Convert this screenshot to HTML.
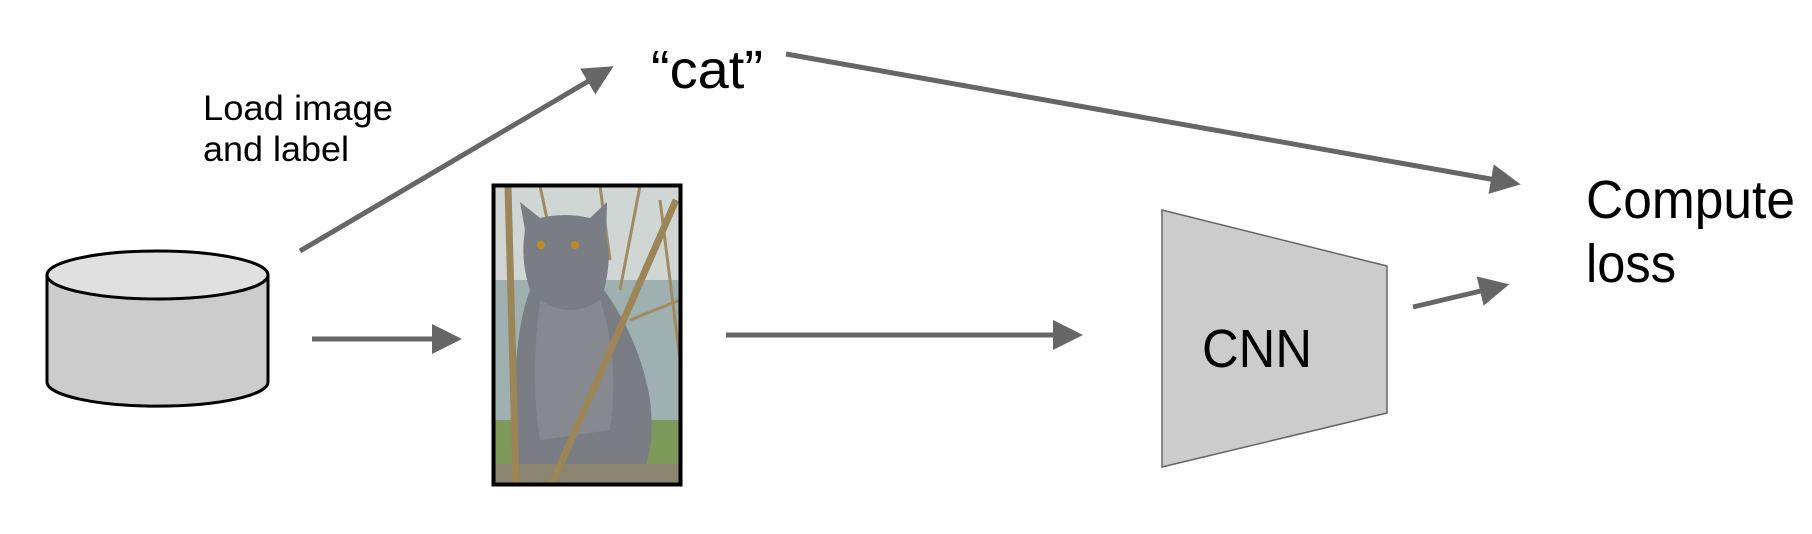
<!DOCTYPE html>
<html><head><meta charset="utf-8"><style>
html,body{margin:0;padding:0;background:#fff;}
svg{display:block;}
text{font-family:"Liberation Sans",Arial,sans-serif;fill:#000;}
</style></head><body>
<svg width="1812" height="534" viewBox="0 0 1812 534" xmlns="http://www.w3.org/2000/svg">
<defs>
<marker id="ah" markerWidth="6" markerHeight="6" refX="1" refY="3" orient="auto" markerUnits="strokeWidth">
<path d="M0,0 L6,3 L0,6 z" fill="#666"/>
</marker>
</defs>
<!-- labels -->
<text x="651" y="88" font-size="54" textLength="112" lengthAdjust="spacingAndGlyphs">“cat”</text>
<text x="203" y="120" font-size="35" textLength="190" lengthAdjust="spacingAndGlyphs">Load image</text>
<text x="203" y="161" font-size="35" textLength="146" lengthAdjust="spacingAndGlyphs">and label</text>
<text x="1586" y="218" font-size="54" textLength="209" lengthAdjust="spacingAndGlyphs">Compute</text>
<text x="1586" y="282" font-size="54" textLength="90" lengthAdjust="spacingAndGlyphs">loss</text>
<!-- arrows -->
<g stroke="#666" stroke-width="5" fill="none">
<line x1="300" y1="251" x2="592" y2="79" marker-end="url(#ah)"/>
<line x1="312" y1="339" x2="437" y2="339" marker-end="url(#ah)"/>
<line x1="726" y1="335" x2="1058" y2="335" marker-end="url(#ah)"/>
<line x1="786" y1="54" x2="1496" y2="180" marker-end="url(#ah)"/>
<line x1="1413" y1="307" x2="1485" y2="290" marker-end="url(#ah)"/>
</g>
<!-- cylinder -->
<path d="M47,275 L47,382 A110,24 0 0 0 268,382 L268,275" fill="#ccc" stroke="#000" stroke-width="3"/>
<ellipse cx="157.5" cy="275" rx="110.5" ry="24" fill="#e0e0e0" stroke="#000" stroke-width="3"/>
<!-- CNN -->
<polygon points="1162,210 1387,266 1387,413 1162,467" fill="#ccc" stroke="#666" stroke-width="1.5"/>
<text x="1202" y="367" font-size="54" textLength="110" lengthAdjust="spacingAndGlyphs">CNN</text>
<!-- cat photo -->
<g>
<rect x="492" y="184" width="190" height="302" fill="#cfd6d4"/>
<rect x="494" y="280" width="186" height="140" fill="#9fb0b0"/>
<rect x="494" y="420" width="186" height="64" fill="#7d9a5a"/>
<g stroke="#a08a62" stroke-width="3" fill="none">
<line x1="540" y1="186" x2="560" y2="280"/>
<line x1="600" y1="186" x2="610" y2="260"/>
<line x1="640" y1="186" x2="620" y2="290"/>
<line x1="660" y1="200" x2="680" y2="360"/>
<line x1="630" y1="320" x2="680" y2="300"/>
</g>
<path d="M525,230 L520,202 L540,218 Q565,212 590,218 L607,202 L606,236 Q612,260 604,290 Q640,340 650,400 Q656,450 640,478 L520,478 Q510,440 515,380 Q518,320 530,290 Q520,260 525,230 z" fill="#7a7d84"/>
<path d="M540,300 Q570,320 600,300 Q620,360 610,430 L540,440 Q530,380 540,300z" fill="#868990"/>
<circle cx="541" cy="245" r="4" fill="#c08a20"/>
<circle cx="575" cy="245" r="4" fill="#c08a20"/>
<rect x="494" y="464" width="186" height="20" fill="#8a8470"/>
<g stroke="#9c8658" stroke-width="7" fill="none">
<line x1="508" y1="186" x2="516" y2="484"/>
<line x1="676" y1="200" x2="552" y2="484"/>
</g>
<rect x="493.5" y="185.5" width="187" height="299" fill="none" stroke="#000" stroke-width="4"/>
</g>
</svg>
</body></html>
